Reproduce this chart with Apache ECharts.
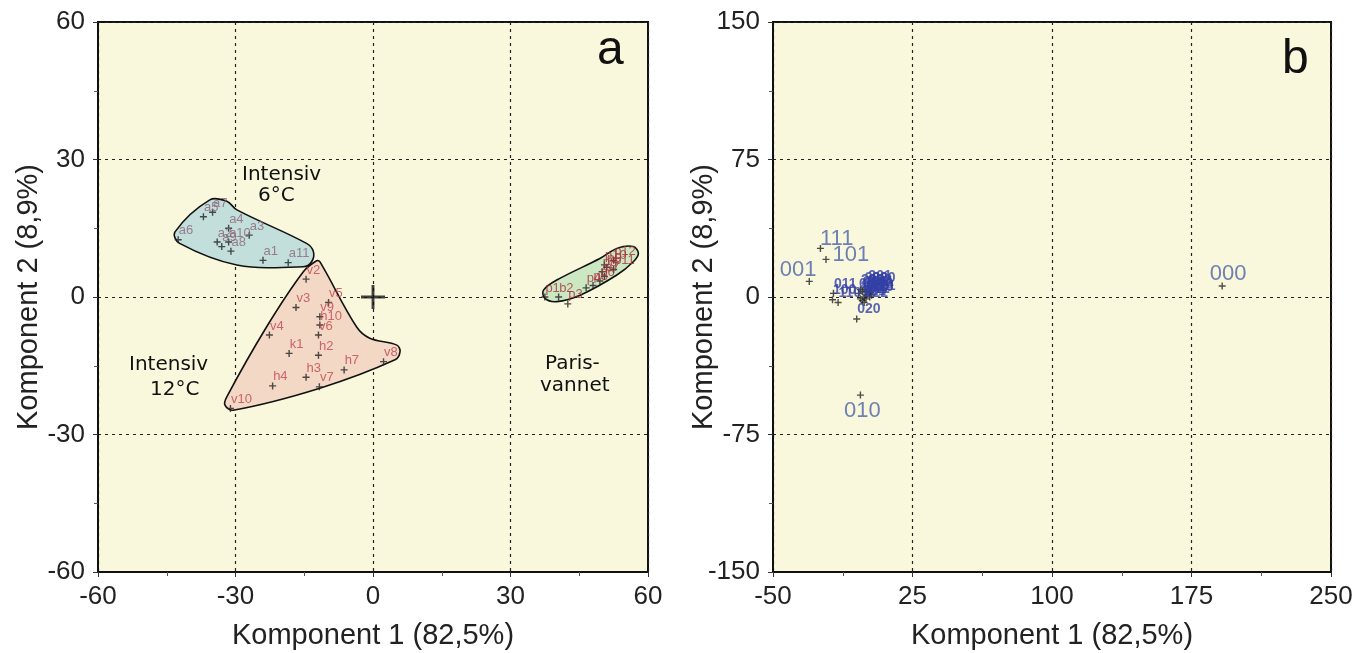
<!DOCTYPE html>
<html><head><meta charset="utf-8">
<script src="https://cdn.jsdelivr.net/npm/echarts/dist/echarts.min.js"></script>
<style>html,body{margin:0;padding:0;background:#fff}#c{width:1355px;height:653px}</style>
</head><body><div id="c"></div>
<script>
// ---- Panel a data ----
const aNames = ['a1','a2','a3','a4','a5','a6','a7','a8','a9','a10','a11'];
const aXY = [[-24,8],[-34,12],[-27,13.5],[-31.5,15],[-37,17.5],[-42.5,12.5],[-35,18.5],[-31,10],[-33,11],[-31.5,12],[-18.5,7.5]];
const vNames = ['v2','v3','v5','v9','h10','v6','v4','k1','h2','h7','v8','h3','v7','h4','v10'];
const vXY = [[-14.6,3.9],[-16.8,-2.3],[-9.7,-1.2],[-11.6,-4.3],[-11.6,-6.1],[-11.9,-8.3],[-22.6,-8.3],[-18.3,-12.3],[-11.9,-12.7],[-6.3,-15.9],[2.3,-14.1],[-14.6,-17.5],[-11.7,-19.6],[-21.9,-19.4],[-31.1,-24.3]];
const pNames = ['p1','b2','p3','p4','p5','p6','p7','p8','p9','p10','p11','p12'];
const pXY = [[37.5,0],[40.5,0],[42.5,-1.5],[46.5,2],[48,2.5],[49.5,3.5],[50.5,4.5],[50,5.5],[51,6.5],[50.5,7],[52.5,6],[52.5,8]];
const hullA = [[-43.2,14.2],[-35.6,21.2],[-31.9,20.9],[-29.7,19],[-14.5,11.7],[-13,9.9],[-13.4,7.7],[-15.2,6.6],[-29.7,7],[-42.2,11.7]];
const hullV = [[-12.3,7.9],[-11.6,7.7],[-3.6,-6.5],[-0.7,-9],[5.2,-10.5],[5.9,-11.9],[4.8,-13.7],[-11.6,-19.9],[-30.5,-24.7],[-32.3,-23.6],[-31.9,-21.8],[-23.2,-6.5],[-15.2,5.5]];
const hullP = [[37.2,1.5],[37.5,-0.3],[40.1,-1],[45.2,0.4],[53.2,4.8],[56.8,7.7],[57.9,9.5],[56.8,11],[53.2,10.6],[49.5,8.4],[40.1,3.7]];
const originMark = [[0,0]];
const ticksA = {min:-60, max:60, interval:30};
// ---- Panel b data ----
const bBigNames = ['000','001','010','111','101'];
const bBigXY = [[191.5,6],[-30.5,8.5],[-3,-53.5],[-24.5,26.5],[-21.5,20.5]];
const bSmallNames = ['011','100','020','110','002','012','021','022','102','112','120','121','122','200','201','202','210','211','212','220','221','222'];
const bSmallXY = [[-17.5,2],[-18,-1.5],[-5,-12],[-15,-3],[-4,2],[-2,3],[0,1],[1,4],[-3,-1],[-1,0],[2,2],[-2,-2],[0,-1],[3,5],[1,6],[-1,5],[2,0],[2.5,3],[0,3],[-3,4],[3,1],[-1,-3]];
const ticksBx = {min:-50, max:250, interval:75};
const ticksBy = {min:-150, max:150, interval:75};

const cross = 'path://M4,0H6V4H10V6H6V10H4V6H0V4H4Z';
const bigPlus = 'path://M4.4,0H5.6V4.4H10V5.6H5.6V10H4.4V5.6H0V4.4H4.4Z';
const font = 'Liberation Sans, Arial, sans-serif';

function xAxis(idx, t){
  return {type:'value', gridIndex:idx, min:t.min, max:t.max, interval:t.interval,
    name:'Komponent 1 (82,5%)', nameLocation:'middle', nameGap:49,
    nameTextStyle:{fontSize:29, color:'#222', fontFamily:font},
    axisLine:{show:true, onZero:false, lineStyle:{color:'#111', width:2}},
    axisTick:{show:true, length:5, lineStyle:{color:'#333'}},
    minorTick:{show:true, splitNumber:2, length:4, lineStyle:{color:'#555'}},
    axisLabel:{fontSize:26, color:'#222', fontFamily:font, margin:12},
    splitLine:{show:true, lineStyle:{color:'#222', type:[3,4], width:1.2}}};
}
function yAxis(idx, t, gap){
  return {type:'value', gridIndex:idx, min:t.min, max:t.max, interval:t.interval,
    name:'Komponent 2 (8,9%)', nameLocation:'middle', nameGap:gap, nameMoveOverlap:false,
    nameTextStyle:{fontSize:29, color:'#222', fontFamily:font},
    axisLine:{show:true, onZero:false, lineStyle:{color:'#111', width:2}},
    axisTick:{show:true, length:5, lineStyle:{color:'#333'}},
    minorTick:{show:true, splitNumber:2, length:4, lineStyle:{color:'#555'}},
    axisLabel:{fontSize:26, color:'#222', fontFamily:font, margin:13},
    splitLine:{show:true, lineStyle:{color:'#222', type:[3,4], width:1.2}}};
}
function hull(pts, fill){
  return {type:'custom', xAxisIndex:0, yAxisIndex:0, data:[[0,0]], silent:true, z:1,
    renderItem:(params, api)=>({type:'polygon',
      shape:{points: pts.map(p=>api.coord(p)), smooth:0.35},
      style:{fill:fill, stroke:'#111', lineWidth:1.6}})};
}
function pts(names, xy, color, xi){
  return {type:'scatter', xAxisIndex:xi, yAxisIndex:xi, symbol:cross, symbolSize:7, z:3,
    itemStyle:{color:'#222'},
    data: xy.map((p,i)=>[p[0],p[1],names[i]]),
    label:{show:true, formatter:p=>p.data[2], position:[4,-12], fontSize:13, color:color, fontFamily:font}};
}
const bigLabelPos = {'000':[-9,-20], '001':[-26,-19], '010':[-13,8], '111':[3,-17], '101':[10,-12]};
const option = {
  animation:false,
  backgroundColor:'#fff',
  grid:[
    {left:98, top:22, width:550, height:550, outerBoundsMode:'none', containLabel:false, show:true, backgroundColor:'#faf8dc', borderColor:'#111', borderWidth:2},
    {left:773, top:22, width:558, height:550, outerBoundsMode:'none', containLabel:false, show:true, backgroundColor:'#faf8dc', borderColor:'#111', borderWidth:2}
  ],
  xAxis:[xAxis(0, ticksA), xAxis(1, ticksBx)],
  yAxis:[yAxis(0, ticksA, 55), yAxis(1, ticksBy, 55)],
  series:[
    hull(hullA, '#c3dfdc'),
    hull(hullV, '#f3d9c5'),
    hull(hullP, '#cce8c2'),
    pts(aNames, aXY, '#8a6478', 0),
    pts(vNames, vXY, '#c0454f', 0),
    pts(pNames, pXY, '#a8303c', 0),
    {type:'scatter', xAxisIndex:0, yAxisIndex:0, symbol:bigPlus, symbolSize:24, z:4,
      itemStyle:{color:'#111'}, data:originMark},
    {type:'scatter', xAxisIndex:1, yAxisIndex:1, symbol:cross, symbolSize:7, z:3,
      itemStyle:{color:'#222'},
      data: bSmallXY.map((p,i)=>[p[0],p[1],bSmallNames[i]]),
      label:{show:true, formatter:p=>p.data[2], position:[4,-13], fontSize:14, fontWeight:'bold', color:'#3340a6', fontFamily:font}},
    {type:'scatter', xAxisIndex:1, yAxisIndex:1, symbol:cross, symbolSize:7, z:3,
      itemStyle:{color:'#222'},
      data: bBigXY.map((p,i)=>({value:[p[0],p[1]], name:bBigNames[i],
        label:{show:true, position:bigLabelPos[bBigNames[i]]}})),
      label:{show:true, formatter:p=>p.name, fontSize:22, color:'#4a62a8', fontFamily:font}}
  ],
  graphic:[
    {type:'text', left:597, top:27, style:{text:'a', fontSize:48, fill:'#111', fontFamily:font}},
    {type:'text', left:1282, top:36, style:{text:'b', fontSize:48, fill:'#111', fontFamily:font}},
    {type:'text', left:242, top:165, style:{text:'Intensiv', fontSize:20, fill:'#111', fontFamily:'DejaVu Sans'}},
    {type:'text', left:258, top:186, style:{text:'6°C', fontSize:20, fill:'#111', fontFamily:'DejaVu Sans'}},
    {type:'text', left:129, top:355, style:{text:'Intensiv', fontSize:20, fill:'#111', fontFamily:'DejaVu Sans'}},
    {type:'text', left:150, top:380, style:{text:'12°C', fontSize:20, fill:'#111', fontFamily:'DejaVu Sans'}},
    {type:'text', left:545, top:354, style:{text:'Paris-', fontSize:20, fill:'#111', fontFamily:'DejaVu Sans'}},
    {type:'text', left:540, top:376, style:{text:'vannet', fontSize:20, fill:'#111', fontFamily:'DejaVu Sans'}}
  ]
};
const chart = echarts.init(document.getElementById('c'), null, {renderer:'canvas'});
chart.setOption(option);
</script>
</body></html>
